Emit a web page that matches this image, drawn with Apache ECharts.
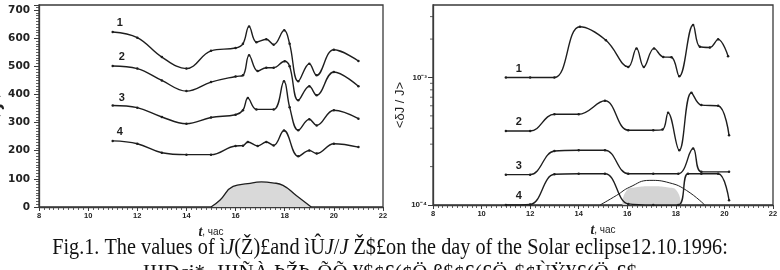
<!DOCTYPE html>
<html><head><meta charset="utf-8">
<script src="https://cdn.jsdelivr.net/npm/echarts@6/dist/echarts.min.js"></script>
<style>html,body{margin:0;padding:0;background:#fff}#c{width:780px;height:270px}</style>
</head><body><div id="c"></div>
<script>
// ---- Left panel: <J> ----
const jCurve1 = [[11,622],[12,602],[13,533],[14,492],[15,555],[16,565],[16.3,580],[16.55,642],[16.85,586],[17.25,596],[17.55,577],[17.98,628],[18.2,580],[18.55,447],[19,509],[19.3,468],[20,559],[21,519]];
const jCurve2 = [[11,501],[12,492],[13,450],[14,412],[15,444],[16,464],[16.3,468],[16.55,539],[16.9,483],[17.25,495],[17.55,495],[18,518],[18.2,500],[18.55,379],[19,429],[19.3,397],[20,480],[21,429]];
const jCurve3 = [[11,361],[12,353],[13,320],[14,296],[15,318],[16,328],[16.3,344],[16.5,387],[16.85,347],[17.55,347],[17.97,447],[18.2,355],[18.55,273],[19,312],[19.3,290],[20,344],[21,314]];
const jCurve4 = [[11,235],[12,225],[13,193],[14,186],[15,186],[16,217],[16.3,218],[16.5,231],[16.9,217],[17.25,231],[17.55,219],[17.97,272],[18.55,180],[19,201],[19.3,190],[20,225],[21,213]];
const eclipseLeft = [[15,0],[15.36,24],[15.9,73],[16.5,83],[17.05,89],[17.5,86],[17.93,77],[18.47,41],[19.08,0]];

// ---- Right panel: <dJ/J> ----
const dCurve1 = [[11,1e-3],[12,1e-3],[13,1.0e-3],[14.05,2.5e-3],[15.12,1.96e-3],[16.04,1.21e-3],[16.38,1.69e-3],[16.68,1.21e-3],[17.1,1.69e-3],[17.48,1.45e-3],[17.82,1.44e-3],[18.14,1.02e-3],[18.71,2.58e-3],[18.99,1.74e-3],[19.4,1.72e-3],[19.74,1.99e-3],[20.15,1.47e-3]];
const dCurve2 = [[11,3.8e-4],[12,3.8e-4],[13,5.15e-4],[14,5.15e-4],[15.08,6.56e-4],[16.04,3.86e-4],[17.07,3.86e-4],[17.45,3.9e-4],[17.68,5.28e-4],[18.14,2.69e-4],[18.64,7.59e-4],[19.05,6.07e-4],[19.74,6.0e-4],[20.19,3.52e-4]];
const dCurve3 = [[11,1.73e-4],[12,1.73e-4],[13,2.65e-4],[14,2.69e-4],[15.08,2.69e-4],[16.04,1.76e-4],[17.07,1.76e-4],[18.1,1.76e-4],[18.71,2.77e-4],[19.05,1.82e-4],[20.19,1.82e-4]];
const dCurve4 = [[11,1.0e-4],[12,1.01e-4],[13,1.74e-4],[14,1.76e-4],[15.08,1.76e-4],[16.04,1.02e-4],[17.07,1.0e-4],[18.1,1.0e-4],[18.5,1.76e-4],[19.05,1.76e-4],[19.74,1.76e-4],[20.19,1.09e-4]];
const eclipseRight = [[14.88,1e-4],[15.56,1.19e-4],[16.1,1.38e-4],[16.93,1.56e-4],[17.75,1.49e-4],[18.44,1.30e-4],[19.19,1e-4]];
const shadeRight = [[15.8,1.04e-4],[15.95,1.28e-4],[16.3,1.37e-4],[17,1.40e-4],[17.7,1.37e-4],[18.05,1.28e-4],[18.2,1.04e-4]];
const logMinorTicks = [2e-4,3e-4,4e-4,5e-4,6e-4,7e-4,8e-4,9e-4,2e-3,3e-3];
const curveNames = ['1','2','3','4'];

const ink = '#1e1e1e';
const axisCol = '#3a3a3a';
const chart = echarts.init(document.getElementById('c'), null, {renderer:'canvas'});

function curve(data, name, xi, off){
  return {
    type:'line', xAxisIndex:xi, yAxisIndex:xi, smooth:0.4, smoothMonotone:null,
    symbol:'circle', symbolSize:2.5, showAllSymbol:true,
    lineStyle:{color:ink, width:1.4}, itemStyle:{color:ink},
    data: data.map((p,i)=> i===0 ? {value:p, label:{show:true, formatter:name, position:'top', offset:off,
      fontSize:11, fontWeight:'bold', color:ink, fontFamily:'Liberation Sans'}} : p),
    z:3, silent:true, animation:false
  };
}

const xAxisCommon = {
  type:'value', min:8, max:22, interval:2,
  axisLine:{show:true, lineStyle:{color:axisCol, width:1.3}},
  axisTick:{show:true, length:4, lineStyle:{color:axisCol, width:1}},
  minorTick:{show:true, splitNumber:10, length:3, lineStyle:{color:axisCol, width:0.8}},
  splitLine:{show:false},
  axisLabel:{fontSize:7.5, fontWeight:'bold', color:'#222', margin:5, fontFamily:'Liberation Sans'},
  name:'{t|t}{r|, час}', nameLocation:'middle', nameGap:13,
  nameTextStyle:{rich:{t:{fontStyle:'italic', fontWeight:'bold', fontSize:14, fontFamily:'Liberation Serif', color:'#222'},
                       r:{fontSize:10, fontFamily:'Liberation Sans', color:'#222'}}}
};

const option = {
  backgroundColor:'#fff',
  animation:false,
  grid:[
    {left:39, top:5, width:344, height:202, show:true, borderColor:axisCol, borderWidth:1.3, backgroundColor:'transparent', outerBoundsMode:'none', containLabel:false},
    {left:433, top:5, width:340, height:200, show:true, borderColor:axisCol, borderWidth:1.3, backgroundColor:'transparent', outerBoundsMode:'none', containLabel:false}
  ],
  xAxis:[
    Object.assign({gridIndex:0}, xAxisCommon),
    Object.assign({gridIndex:1}, xAxisCommon)
  ],
  yAxis:[
    {gridIndex:0, type:'value', min:0, max:718, interval:100,
     axisLine:{show:true, lineStyle:{color:axisCol, width:1.3}},
     axisTick:{show:true, length:5, lineStyle:{color:axisCol, width:1}},
     minorTick:{show:true, splitNumber:10, length:3, lineStyle:{color:axisCol, width:0.8}},
     splitLine:{show:false},
     axisLabel:{fontSize:10.5, fontWeight:'bold', color:'#222', margin:9, fontFamily:'DejaVu Sans', showMaxLabel:false},
     name:'< J >', nameLocation:'middle', nameGap:32, nameRotate:90,
     nameTextStyle:{fontSize:14, fontWeight:'bold', color:'#222', fontFamily:'DejaVu Sans'}
    },
    {gridIndex:1, type:'log', logBase:10, min:1e-4, max:3.7e-3,
     axisLine:{show:true, lineStyle:{color:axisCol, width:1.3}},
     axisTick:{show:true, length:5, lineStyle:{color:axisCol, width:1}},
     splitLine:{show:false},
     axisLabel:{fontSize:8, fontWeight:'bold', color:'#222', margin:6, fontFamily:'Liberation Sans', showMaxLabel:false,
       formatter:(v)=>{const e=Math.round(Math.log10(v)); return Math.abs(Math.log10(v)-e)<1e-6 ? '10'+(e===-3?'⁻³':e===-4?'⁻⁴':'') : '';}},
     name:'<δJ / J>', nameLocation:'middle', nameGap:24, nameRotate:90,
     nameTextStyle:{fontSize:13, color:'#222', fontFamily:'Liberation Sans'}
    }
  ],
  series:[
    {type:'line', xAxisIndex:0, yAxisIndex:0, smooth:0.5, symbol:'none', data:eclipseLeft,
     lineStyle:{color:ink, width:1.3}, areaStyle:{color:'#d9d9d9', opacity:1, origin:'start'}, z:2, silent:true},
    curve(jCurve1, curveNames[0], 0, [7,3]),
    curve(jCurve2, curveNames[1], 0, [9,3]),
    curve(jCurve3, curveNames[2], 0, [9,4]),
    curve(jCurve4, curveNames[3], 0, [7,3]),
    {type:'line', xAxisIndex:1, yAxisIndex:1, smooth:0.6, symbol:'none', data:shadeRight,
     lineStyle:{width:0}, areaStyle:{color:'#d4d4d4', opacity:1, origin:'start'}, z:1, silent:true},
    {type:'line', xAxisIndex:1, yAxisIndex:1, smooth:0.5, symbol:'none', data:eclipseRight,
     lineStyle:{color:ink, width:1}, z:2, silent:true},
    curve(dCurve1, curveNames[0], 1, [13,3]),
    curve(dCurve2, curveNames[1], 1, [13,3]),
    curve(dCurve3, curveNames[2], 1, [13,3]),
    curve(dCurve4, curveNames[3], 1, [13,3]),
    {type:'scatter', xAxisIndex:1, yAxisIndex:1, clip:false, silent:true, symbol:'rect', symbolSize:[3,1],
     symbolOffset:[-1.5,0], itemStyle:{color:axisCol}, data:logMinorTicks.map(v=>[8,v]), z:4}
  ],
  graphic:[
    {type:'text', left:'center', top:236, scaleX:0.88, originX:390,
     style:{text:'Fig.1. The values of ì{i|J}(Ž)£and ìÛ{i|J}/{i|J} Ž$£on the day of the Solar eclipse12.10.1996:',
       fontSize:23, fontFamily:'Liberation Serif', fill:'#111',
       rich:{i:{fontStyle:'italic', fontSize:23, fontFamily:'Liberation Serif'}}}},
    {type:'text', left:'center', top:263,
     style:{text:'ЩÐçi*¸ ЩÑÀ ÞŽÞ›ÕÕ ¥$¢£(¢Ö ß$¢£(£Ö-$¢ÙŸ¥£(Ö-£$', fontSize:21, fontFamily:'Liberation Serif', fill:'#111'}}
  ]
};
chart.setOption(option);
</script></body></html>
